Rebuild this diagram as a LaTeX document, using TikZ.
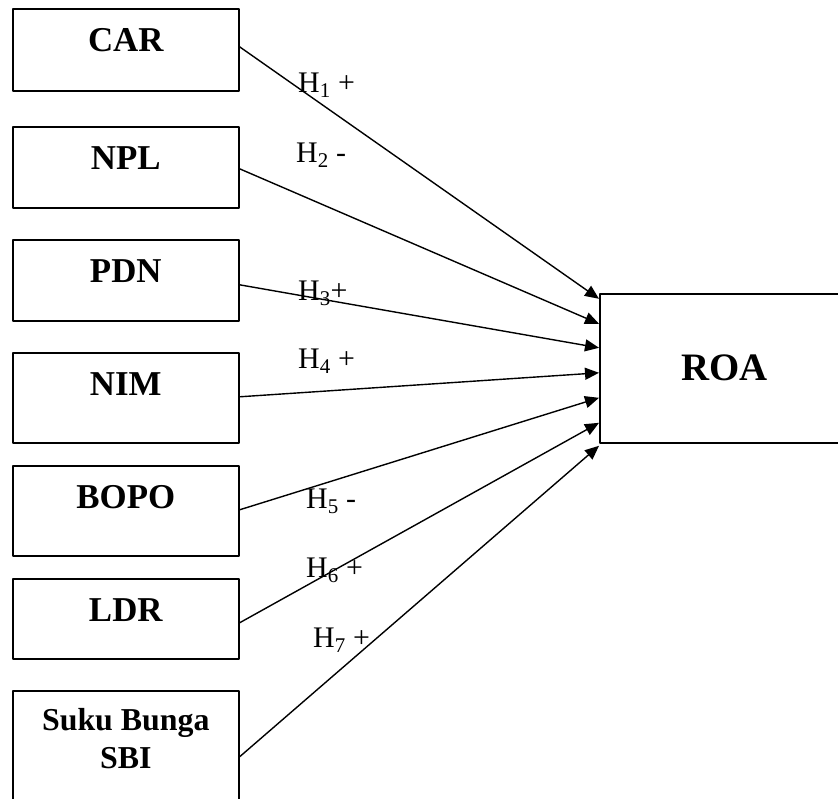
\documentclass[tikz,border=0pt]{standalone}
\usepackage{fontspec}
\setmainfont{Liberation Serif}
\usetikzlibrary{arrows.meta}
\begin{document}
\begin{tikzpicture}[x=1bp,y=-1bp,>={Triangle[length=14bp,width=12bp]},line join=round,
	box/.style={draw,line width=1.6bp,inner sep=0pt,minimum width=226bp},
	lbl/.style={font=\bfseries\fontsize{35}{42}\selectfont,text height=43bp},
	hyp/.style={anchor=base west,inner sep=0pt,font=\fontsize{30}{36}\selectfont}]
	\useasboundingbox (0,0) rectangle (838,799);
	% variabel independen
	\foreach \n/\y/\d in {CAR/8/39,NPL/126/38,PDN/239/38,NIM/352/47,BOPO/465/47,LDR/578/37}
	\node[box,lbl,anchor=north west,text depth=\d bp] (\n) at (12,\y) {\n};
	\node[box,anchor=north west,font=\bfseries\fontsize{32}{38}\selectfont,text height=40bp,text depth=100bp]
	(SBI) at (12,690) {\begin{tabular}[t]{@{}c@{}}Suku Bunga\\SBI\end{tabular}};
	% variabel dependen
	\node[box,anchor=north west,minimum width=249bp,minimum height=149bp,font=\bfseries\fontsize{39}{47}\selectfont]
	(ROA) at (599,293) {ROA};
	% panah hipotesis
	\foreach \s/\a/\e in {CAR/3/69.5,NPL/-1.5/44.5,PDN/-4.5/20.5,NIM/1/-4.5,BOPO/1/-29.5,LDR/-4/-54.5,SBI/4/-77.5}
	\draw[->,line width=1.4bp] ([yshift=\a bp]\s.east)--([yshift=\e bp]ROA.west);
	\foreach \x/\y/\t [count=\i] in {298/92/H\textsubscript{1} +,296/162/H\textsubscript{2} -,298/300/H\textsubscript{3}+,298/368/H\textsubscript{4} +,306/508/H\textsubscript{5} -,306/577/H\textsubscript{6} +,313/647/H\textsubscript{7} +}
	\node[hyp] (H\i) at (\x,\y) {\t};
\end{tikzpicture}
\end{document}
